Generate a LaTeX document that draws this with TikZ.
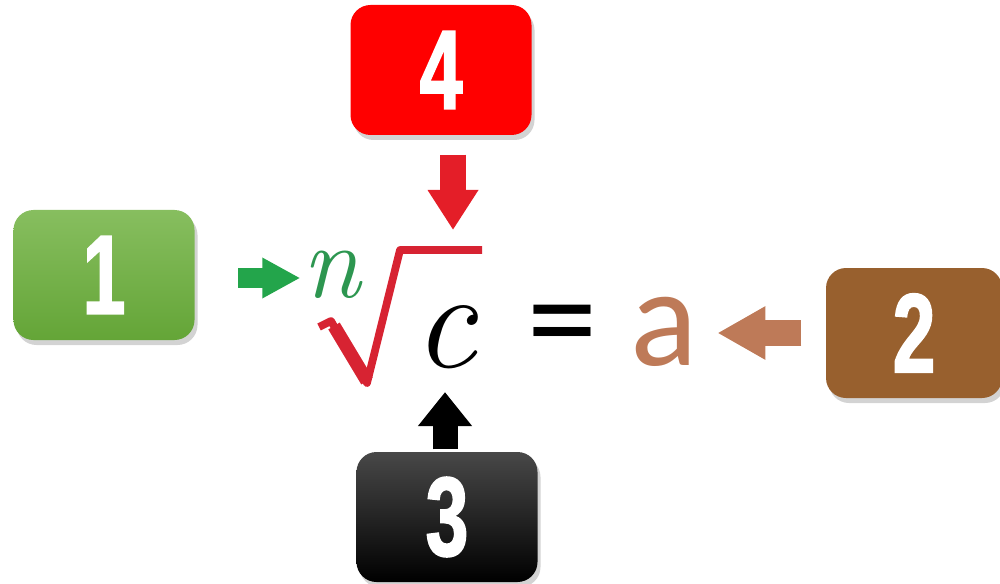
\documentclass[tikz,border=0pt]{standalone}
\usepackage{fontspec}
\usepackage{tikz}
\usetikzlibrary{arrows.meta,shadows}
\newfontfamily\digitfont[FakeStretch=0.68, FakeBold=1.6]{Liberation Sans}
\newfontfamily\calfont{Carlito}
\definecolor{boxgreenA}{RGB}{135,190,95}
\definecolor{boxgreenB}{RGB}{100,165,55}
\definecolor{boxred}{RGB}{255,0,0}
\definecolor{boxblackA}{RGB}{72,72,72}
\definecolor{boxbrown}{RGB}{152,96,46}
\definecolor{arrgreen}{RGB}{35,165,75}
\definecolor{arrred}{RGB}{228,30,40}
\definecolor{arrbrown}{RGB}{190,122,88}
\definecolor{rootred}{RGB}{215,35,50}
\definecolor{idxgreen}{RGB}{45,150,80}

\begin{document}
\begin{tikzpicture}[
    numbox/.style={rounded corners=0.2cm, minimum width=1.81cm, minimum height=1.30cm,
      text=white, font=\digitfont\bfseries\fontsize{32}{36}\selectfont,
      drop shadow={shadow xshift=0.03cm, shadow yshift=-0.05cm, opacity=0.35}},
    sym/.style={inner sep=0pt, anchor=base},
    fat/.style={line width=#1},
    fat/.default=0.22cm
  ]
    \useasboundingbox (0,0) rectangle (10,5.83);

    % the formula
    \node[sym, text=idxgreen, font=\itshape\fontsize{30}{36}\selectfont] (n) at (3.31,2.86) {n};
    \node[sym, font=\itshape\fontsize{40}{48}\selectfont] (c) at (4.45,2.16) {c};
    \node[sym, font=\calfont\fontsize{40}{48}\selectfont] (eq) at (5.62,2.18) {=};
    \node[sym, text=arrbrown, font=\calfont\fontsize{40}{48}\selectfont] (a) at (6.64,2.18) {a};
    \draw[rootred, line width=2.2pt, line join=round] (3.19,2.56) -- (3.31,2.62) -- (3.67,2.00) -- (4.00,3.33) -- (4.82,3.33);
    \draw[rootred, line width=3.8pt] (3.34,2.57) -- (3.67,2.02);
    \coordinate (bar) at (4.53,3.33);

    % numbered boxes
    \node[numbox, top color=boxgreenA, bottom color=boxgreenB] (one) at (1.04,3.08) {1};
    \node[numbox, fill=boxbrown, minimum width=1.76cm] (two) at (9.14,2.50) {2};
    \node[numbox, top color=boxblackA, bottom color=black] (three) at (4.47,0.66) {3};
    \node[numbox, fill=boxred] (four) at (4.41,5.13) {4};

    % arrows
    \draw[fat=0.20cm, arrgreen, -{Triangle[length=0.38cm, width=0.38cm]}, shorten <=0.43cm, shorten >=0.01cm]
      ([yshift=-0.03cm]one.east) -- ([yshift=-0.03cm]one.east -| n.west);
    \draw[fat=0.26cm, arrbrown, -{Triangle[length=0.48cm, width=0.50cm]}, shorten <=0.24cm, shorten >=0.19cm]
      (two.west) -- (two.west -| a.east);
    \draw[fat=0.25cm, black, -{Triangle[length=0.34cm, width=0.52cm]}, shorten <=0.02cm, shorten >=0.23cm]
      (three.north -| c.south) -- (c.south);
    \draw[fat=0.26cm, arrred, -{Triangle[length=0.40cm, width=0.48cm]}, shorten <=0.19cm, shorten >=0.20cm]
      (four.south -| bar) -- (bar);
  \end{tikzpicture}
\end{document}
